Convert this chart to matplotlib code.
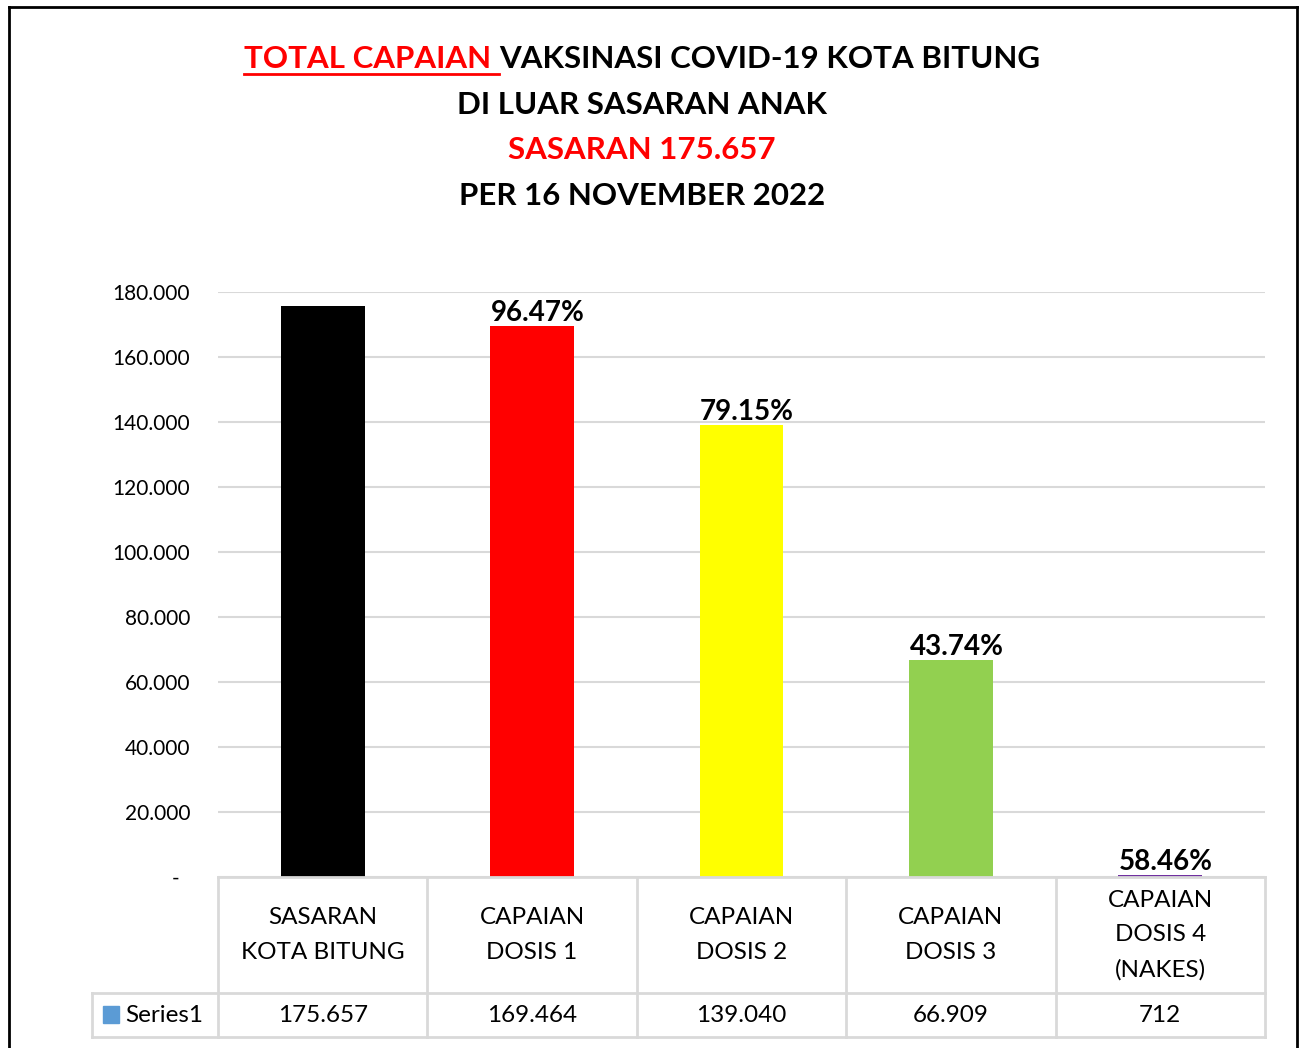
import matplotlib.pyplot as plt
from matplotlib.lines import Line2D
from matplotlib.patches import Rectangle

plt.rcParams['font.family'] = ['Lato', 'DejaVu Sans']

# data
categories = ["SASARAN\nKOTA BITUNG", "CAPAIAN\nDOSIS 1", "CAPAIAN\nDOSIS 2",
              "CAPAIAN\nDOSIS 3", "CAPAIAN\nDOSIS 4\n(NAKES)"]
values = [175657, 169464, 139040, 66909, 712]
pct_labels = ["", "96.47%", "79.15%", "43.74%", "58.46%"]
bar_colors = ["#000000", "#FF0000", "#FFFF00", "#92D050", "#7030A0"]
yticks = [0, 20000, 40000, 60000, 80000, 100000, 120000, 140000, 160000, 180000]

W, H = 1299, 1048
fig = plt.figure(figsize=(W / 100, H / 100), dpi=100)

def fx(px):
    return px / W

def fy(py):
    return 1 - py / H

grid_c = "#D9D9D9"

ax = fig.add_axes([fx(218), fy(877), fx(1265) - fx(218), fy(292) - fy(877)])
x = list(range(len(values)))
ax.bar(x, values, width=0.4, color=bar_colors, zorder=3)
ax.set_xlim(-0.5, len(values) - 0.5)
ax.set_ylim(0, 180000)
ax.set_yticks(yticks)
ax.set_yticklabels(["-  "] + [f"{v:,.0f}".replace(",", ".") for v in yticks[1:]],
                   fontsize=15)
ax.tick_params(axis="y", length=0, pad=20)
ax.tick_params(axis="x", bottom=False, labelbottom=False)
ax.grid(axis="y", color=grid_c, lw=1.5, zorder=0)
for s in ax.spines.values():
    s.set_visible(False)

for xi, v, lab in zip(x, values, pct_labels):
    if lab:
        ax.annotate(lab, (xi, v), xytext=(4, 0), textcoords="offset points",
                    ha="center", va="bottom", fontsize=20, fontweight="bold")

# data table under the axis
tab = fig.add_axes([fx(218), fy(1037), fx(1265) - fx(218), fy(877) - fy(1037)],
                   sharex=ax)
tab.set_ylim(0, 160)
tab.axis("off")
left = -0.5 - (218 - 92) / ((1265 - 218) / 5)
lw = 2
tab.add_line(Line2D([-0.5, 4.5], [160, 160], color=grid_c, lw=lw, clip_on=False))
tab.add_line(Line2D([left, 4.5], [44, 44], color=grid_c, lw=lw, clip_on=False))
tab.add_line(Line2D([left, 4.5], [0, 0], color=grid_c, lw=lw, clip_on=False))
tab.add_line(Line2D([left, left], [0, 44], color=grid_c, lw=lw, clip_on=False))
for b in range(len(values) + 1):
    tab.add_line(Line2D([b - 0.5, b - 0.5], [0, 160], color=grid_c, lw=lw, clip_on=False))

for xi, c, v in zip(x, categories, values):
    tab.text(xi, 102, c, ha="center", va="center", fontsize=17.5, linespacing=1.78)
    tab.text(xi, 22, f"{v:,.0f}".replace(",", "."), ha="center", va="center",
             fontsize=17.5)

tab.add_patch(Rectangle((left + 0.053, 14), 0.075, 17, color="#5B9BD5", clip_on=False))
tab.text(left + 0.16, 22, "Series1", ha="left", va="center", fontsize=17.5)

# title
fig.text(fx(642), fy(105), "DI LUAR SASARAN ANAK", ha="center", va="center",
         fontsize=22.5, fontweight="bold")
fig.text(fx(642), fy(150), "SASARAN 175.657", ha="center", va="center",
         fontsize=22.5, fontweight="bold", color="#FF0000")
fig.text(fx(642), fy(196), "PER 16 NOVEMBER 2022", ha="center", va="center",
         fontsize=22.5, fontweight="bold")

t1 = fig.text(0, fy(59), "TOTAL CAPAIAN ", ha="left", va="center",
              fontsize=22.5, fontweight="bold", color="#FF0000")
t2 = fig.text(0, fy(59), "VAKSINASI COVID-19 KOTA BITUNG", ha="left", va="center",
              fontsize=22.5, fontweight="bold")
r = fig.canvas.get_renderer()
w1 = t1.get_window_extent(r).width
w2 = t2.get_window_extent(r).width
x0 = 642 - (w1 + w2) / 2
t1.set_x(fx(x0))
t2.set_x(fx(x0 + w1))
fig.add_artist(Line2D([fx(x0), fx(x0 + w1)], [fy(74), fy(74)], color="#FF0000", lw=2))

# outer frame
for xs, ys in [([9, 9], [7, H + 5]), ([9, 1297], [7, 7]), ([1297, 1297], [7, H + 5])]:
    fig.add_artist(Line2D([fx(p) for p in xs], [fy(p) for p in ys], color="black", lw=2))

fig.savefig("out.png", dpi=100)
